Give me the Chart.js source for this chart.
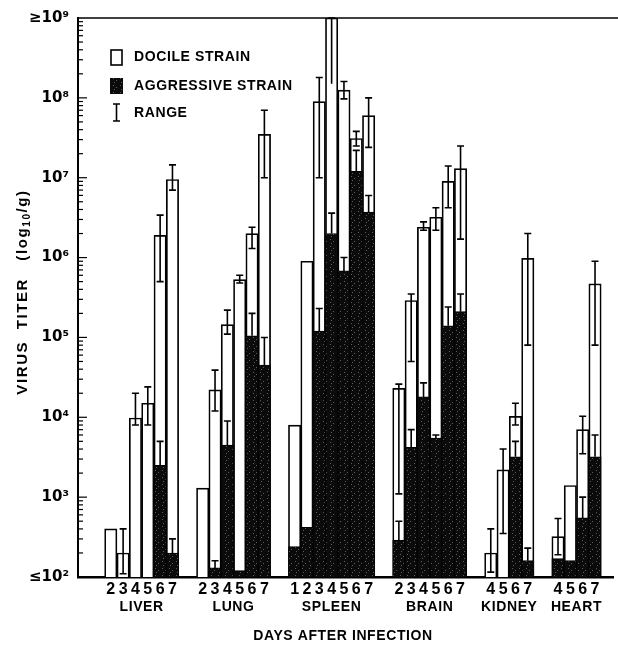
<!DOCTYPE html>
<html lang="en">
<head>
<meta charset="UTF-8">
<title>Virus titer</title>
<style>
  html, body { margin: 0; padding: 0; background: #fff; }
  #wrap { width: 618px; height: 646px; }
</style>
</head>
<body>
<div id="wrap"><canvas id="myChart"></canvas></div>
<script src="https://cdn.jsdelivr.net/npm/chart.js"></script>
<script>
// organs and the days sampled for each
const groups = ['LIVER', 'LUNG', 'SPLEEN', 'BRAIN', 'KIDNEY', 'HEART'];
const groupDays = [
  [2, 3, 4, 5, 6, 7],
  [2, 3, 4, 5, 6, 7],
  [1, 2, 3, 4, 5, 6, 7],
  [2, 3, 4, 5, 6, 7],
  [4, 5, 6, 7],
  [4, 5, 6, 7]
];

// docile strain titer (per g), one list per organ
const docile = [
  [400, 200, 9800, 15000, 1.9e6, 9.5e6],
  [1300, 2.2e4, 1.45e5, 5.3e5, 2e6, 3.5e7],
  [8000, 9e5, 9e7, 1e9, 1.25e8, 3.1e7, 6e7],
  [2.3e4, 2.9e5, 2.4e6, 3.2e6, 9e6, 1.3e7],
  [200, 2200, 1.03e4, 9.8e5],
  [320, 1400, 7000, 4.7e5]
];
// docile range [low, high], null = no range drawn
const docileRange = [
  [null, [110, 400], [8000, 2e4], [8000, 2.4e4], [5e5, 3.4e6], [7e6, 1.45e7]],
  [null, [1.2e4, 3.9e4], [1.1e5, 2.2e5], [4.8e5, 6e5], [1.3e6, 2.4e6], [1e7, 7e7]],
  [null, null, [1e7, 1.8e8], [1.5e8, 1e9], [9.7e7, 1.6e8], [2.5e7, 3.8e7], [2.4e7, 1e8]],
  [[1.1e3, 2.6e4], [5e4, 3.5e5], [2.2e6, 2.8e6], [2.2e6, 4.2e6], [4.2e6, 1.4e7], [1.7e6, 2.5e7]],
  [[115, 400], [350, 4000], [8000, 1.5e4], [8e4, 2e6]],
  [[190, 540], null, [3500, 1.03e4], [8e4, 9e5]]
];

// aggressive strain titer, null = below 10^2
const aggressive = [
  [null, null, null, null, 2500, 200],
  [null, 130, 4500, 120, 1.05e5, 4.5e4],
  [240, 420, 1.2e5, 2e6, 6.8e5, 1.2e7, 3.7e6],
  [290, 4200, 1.8e4, 5500, 1.4e5, 2.1e5],
  [null, null, 3200, 160],
  [170, 160, 550, 3200]
];
// upper end of aggressive range (lower end is hidden inside the dark bar)
const aggressiveHigh = [
  [null, null, null, null, 5000, 300],
  [null, 160, 9000, null, 2e5, 1e5],
  [null, null, 2.3e5, 3.6e6, 1e6, 2.2e7, 6e6],
  [500, 7000, 2.7e4, 6000, 2.4e5, 3.5e5],
  [null, null, 5000, 230],
  [null, null, 1000, 6000]
];

const yTicks = [1e2, 1e3, 1e4, 1e5, 1e6, 1e7, 1e8, 1e9];
const yTickLabels = ['≤10²', '10³', '10⁴', '10⁵', '10⁶', '10⁷', '10⁸', '≥10⁹'];

// layout of bars along a linear x axis
const GAP_START = 1.5, GAP = 1.45, GAP_END = 0.3;
let xPos = [], xDay = [], groupCenter = [];
let pos = GAP_START;
groupDays.forEach(days => {
  const start = pos;
  days.forEach(d => { xPos.push(pos + 0.5); xDay.push(d); pos += 1; });
  groupCenter.push((start + pos) / 2);
  pos += GAP;
});
const xMax = pos - GAP + GAP_END;

const docFlat = docile.flat();
const docRangeFlat = docileRange.flat();
const aggFlat = aggressive.flat();
const aggHighFlat = aggressiveHigh.flat();

// stippled black fill
function makeStipple() {
  const c = document.createElement('canvas');
  c.width = 7; c.height = 7;
  const g = c.getContext('2d');
  g.fillStyle = '#0b0b0b';
  g.fillRect(0, 0, 7, 7);
  g.fillStyle = '#5c5c5c';
  g.fillRect(1, 1, 1, 1);
  g.fillRect(4, 3, 1, 1);
  g.fillRect(2, 5, 1, 1);
  return g.createPattern(c, 'repeat');
}
const stipple = makeStipple();

const FONT = '"Liberation Sans", "DejaVu Sans", Arial, sans-serif';

function whisker(ctx, cx, yLo, yHi, capLo) {
  ctx.beginPath();
  ctx.moveTo(cx, yLo); ctx.lineTo(cx, yHi);
  ctx.moveTo(cx - 3.5, yHi); ctx.lineTo(cx + 3.5, yHi);
  if (capLo) { ctx.moveTo(cx - 3.5, yLo); ctx.lineTo(cx + 3.5, yLo); }
  ctx.stroke();
}

const extras = {
  id: 'extras',
  afterDatasetsDraw(chart) {
    const {ctx, chartArea, scales: {x, y}} = chart;
    const clampY = v => Math.max(chartArea.top, y.getPixelForValue(v));
    ctx.save();
    ctx.strokeStyle = '#000';
    ctx.lineWidth = 1.6;
    xPos.forEach((p, i) => {
      const cx = x.getPixelForValue(p);
      const r = docRangeFlat[i];
      if (r) whisker(ctx, cx, clampY(r[0]), clampY(r[1]), r[1] < 1e9);
      const h = aggHighFlat[i];
      if (h) whisker(ctx, cx, clampY(aggFlat[i]), clampY(h), false);
    });
    ctx.restore();
  },
  afterDraw(chart) {
    const {ctx, chartArea, scales: {x, y}} = chart;
    ctx.save();
    ctx.strokeStyle = '#000';
    // top frame line
    ctx.lineWidth = 1.5;
    ctx.beginPath();
    ctx.moveTo(chartArea.left, chartArea.top);
    ctx.lineTo(chart.width, chartArea.top);
    ctx.stroke();
    // inside ticks on the y axis
    ctx.lineWidth = 1.2;
    for (let e = 2; e < 9; e++) {
      for (let m = 1; m <= 9; m++) {
        const py = y.getPixelForValue(m * Math.pow(10, e));
        const len = m === 1 ? 9 : 5;
        ctx.beginPath();
        ctx.moveTo(chartArea.left, py);
        ctx.lineTo(chartArea.left + len, py);
        ctx.stroke();
      }
    }
    // legend
    ctx.fillStyle = '#000';
    ctx.font = 'bold 14px ' + FONT;
    ctx.letterSpacing = '0.6px';
    ctx.textBaseline = 'middle';
    ctx.textAlign = 'left';
    ctx.lineWidth = 1.6;
    ctx.strokeRect(111, 50, 11, 15);
    ctx.fillText('DOCILE STRAIN', 134, 57);
    ctx.fillStyle = stipple;
    ctx.fillRect(110, 78, 13, 16);
    ctx.fillStyle = '#000';
    ctx.fillText('AGGRESSIVE STRAIN', 134, 86);
    whisker(ctx, 116.5, 121, 104, true);
    ctx.fillText('RANGE', 134, 113);
    // group names
    ctx.textAlign = 'center';
    groups.forEach((g, i) => {
      ctx.fillText(g, x.getPixelForValue(groupCenter[i]), 607);
    });
    ctx.fillText('DAYS AFTER INFECTION', 343, 636);
    // y title, drawn in pieces for the subscript
    ctx.translate(23, 292);
    ctx.rotate(-Math.PI / 2);
    ctx.textAlign = 'left';
    const big = 'bold 15px ' + FONT, small = 'bold 10px ' + FONT;
    const parts = [['VIRUS  TITER   (log', big, 0], ['10', small, 4], ['/g)', big, 0]];
    ctx.letterSpacing = '1.6px';
    let total = 0;
    parts.forEach(p => { ctx.font = p[1]; total += ctx.measureText(p[0]).width; });
    let tx = -total / 2;
    parts.forEach(p => {
      ctx.font = p[1];
      ctx.fillText(p[0], tx, p[2]);
      tx += ctx.measureText(p[0]).width;
    });
    ctx.restore();
  }
};

const ctx = document.getElementById('myChart');
const configs = {
  type: 'bar',
  data: {
    datasets: [
      {
        label: 'AGGRESSIVE STRAIN',
        data: xPos.map((p, i) => ({x: p, y: aggFlat[i]})),
        backgroundColor: stipple,
        borderColor: '#000',
        borderWidth: 1,
        order: 1
      },
      {
        label: 'DOCILE STRAIN',
        data: xPos.map((p, i) => ({x: p, y: docFlat[i]})),
        backgroundColor: '#fff',
        borderColor: '#000',
        borderWidth: 1.7,
        order: 2
      }
    ]
  },
  options: {
    responsive: true,
    maintainAspectRatio: false,
    animation: false,
    grouped: false,
    categoryPercentage: 1,
    barPercentage: 1,
    layout: { padding: { top: 17, right: 5, left: 0, bottom: 0 } },
    plugins: { legend: { display: false }, tooltip: { enabled: false } },
    scales: {
      x: {
        type: 'linear',
        min: 0,
        max: xMax,
        grid: { display: false, drawTicks: false },
        border: { display: true, color: '#000', width: 2.5 },
        afterBuildTicks: s => { s.ticks = xPos.map(v => ({value: v})); },
        afterFit: s => { s.height = 69; },
        ticks: {
          autoSkip: false,
          maxRotation: 0,
          padding: 3,
          color: '#000',
          font: { family: FONT, size: 16, weight: 'bold' },
          callback: (v, i) => String(xDay[i])
        }
      },
      y: {
        type: 'logarithmic',
        min: 1e2,
        max: 1e9,
        grid: { display: false, drawTicks: false },
        border: { display: true, color: '#000', width: 2 },
        afterBuildTicks: s => { s.ticks = yTicks.map(v => ({value: v})); },
        afterFit: s => { s.width = 78; },
        ticks: {
          padding: 9,
          color: '#000',
          font: { family: '"DejaVu Sans", sans-serif', size: 15, weight: 'bold' },
          callback: (v, i) => yTickLabels[i]
        }
      }
    }
  },
  plugins: [extras]
};

const myChart = new Chart(ctx, configs);
</script>
</body>
</html>
